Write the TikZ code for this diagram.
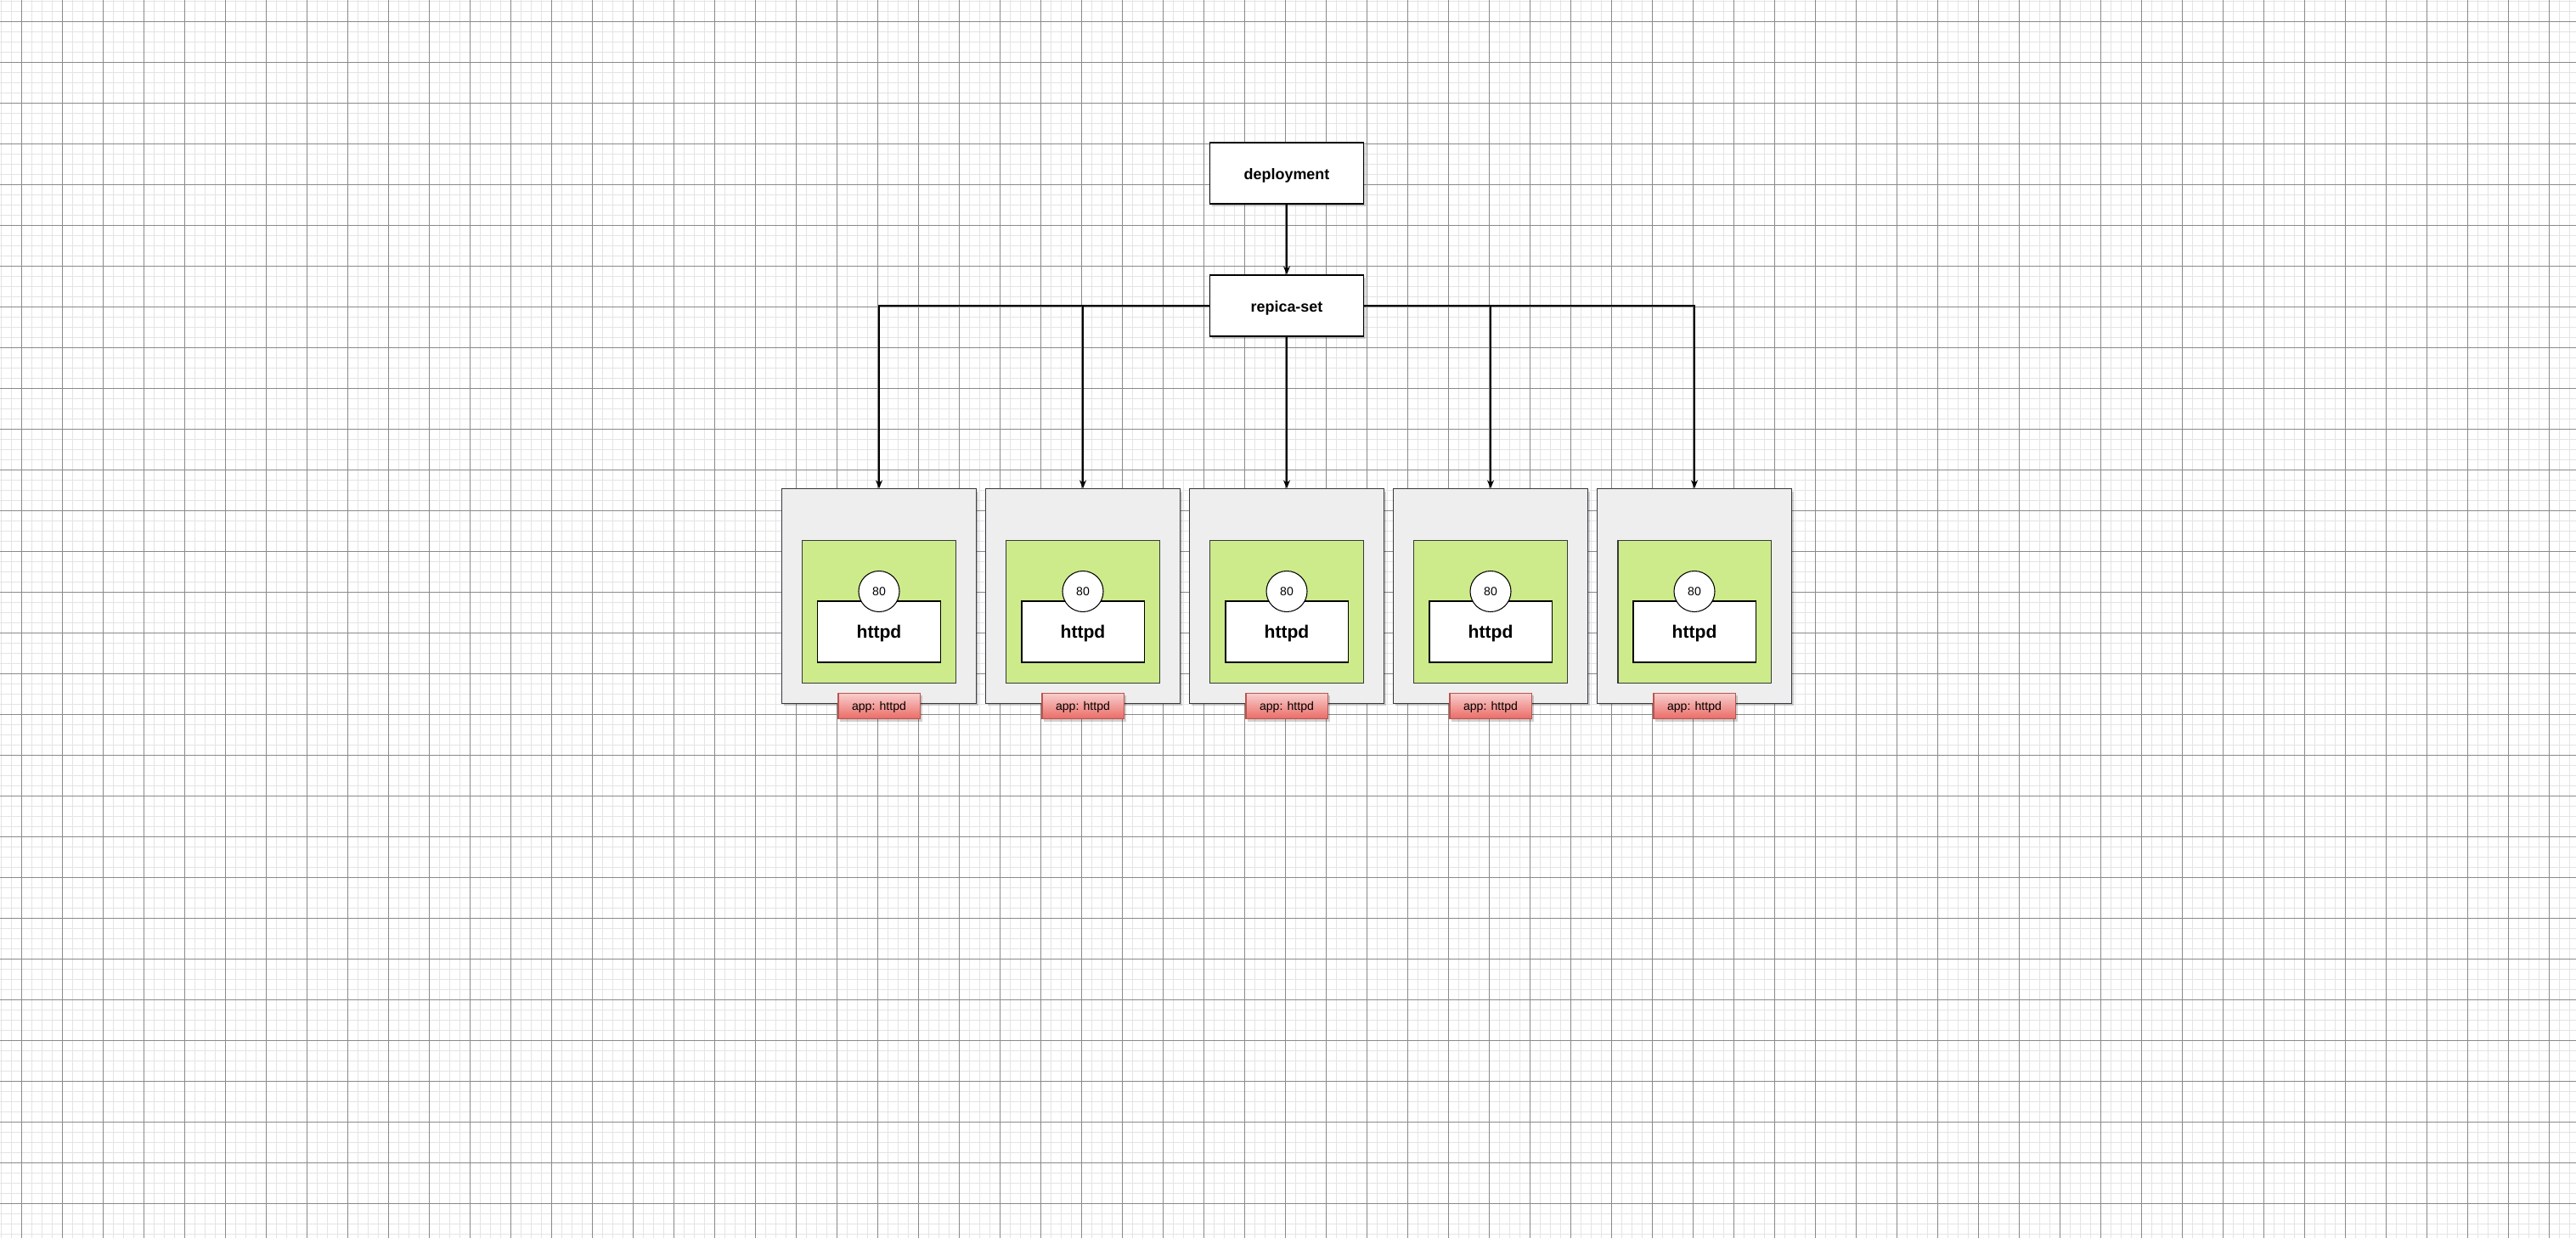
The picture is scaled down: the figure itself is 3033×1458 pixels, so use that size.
\documentclass[tikz,border=0pt]{standalone}
\usepackage{fontspec}
\setmainfont{Liberation Sans}
\usetikzlibrary{arrows.meta, shadows}

\definecolor{podfill}{HTML}{EEEEEE}
\definecolor{podline}{HTML}{36393D}
\definecolor{ctrfill}{HTML}{CDEB8B}
\definecolor{lbltop}{HTML}{F8CECC}
\definecolor{lblbot}{HTML}{EA6B66}
\definecolor{lblline}{HTML}{B85450}
\definecolor{minorgray}{HTML}{E4E4E4}
\definecolor{majorgray}{HTML}{8A8A8A}

\tikzset{
    softshadow/.style={drop shadow={shadow xshift=0.025cm, shadow yshift=-0.03cm, opacity=0.18, fill=black}},
    ctlbox/.style={rectangle, draw=black, fill=white, line width=0.3pt, minimum width=1.8cm, minimum height=0.72cm, text height=4.5pt, text depth=0pt, font=\fontsize{5.1}{6}\selectfont\bfseries, softshadow},
    podbox/.style={rectangle, draw=podline, fill=podfill, line width=0.3pt, minimum width=2.28cm, minimum height=2.52cm, inner sep=0pt, softshadow},
    ctrbox/.style={rectangle, draw=podline, fill=ctrfill, line width=0.3pt, minimum width=1.8cm, minimum height=1.68cm, inner sep=0pt},
    appbox/.style={rectangle, draw=black, fill=white, line width=0.3pt, minimum width=1.44cm, minimum height=0.72cm, text height=4.4pt, text depth=0pt, font=\fontsize{6}{7}\selectfont\bfseries},
    portcirc/.style={circle, draw=black, fill=white, line width=0.3pt, minimum size=0.48cm, inner sep=0pt, font=\fontsize{4}{5}\selectfont},
    podlabel/.style={rectangle, draw=lblline, top color=lbltop, bottom color=lblbot, line width=0.3pt, minimum width=0.96cm, minimum height=0.30cm, inner sep=0pt, text height=3pt, text depth=0pt, font=\fontsize{4}{5}\selectfont, softshadow},
    link/.style={line width=0.32pt, black, -{Stealth[length=0.1cm, width=0.08cm]}}
}

\begin{document}
\begin{tikzpicture}[x=0.01cm, y=-0.01cm]
        \useasboundingbox (0,0) rectangle (3033,1458);
        \fill[white] (0,0) rectangle (3033,1458);

        % background grid
        \foreach \gx in {1.3,13.3,...,3033} \draw[minorgray, line width=0.35pt] (\gx,0) -- (\gx,1458);
        \foreach \gy in {1.3,13.3,...,1458} \draw[minorgray, line width=0.35pt] (0,\gy) -- (3033,\gy);
        \foreach \gx in {25.3,73.3,...,3033} \draw[majorgray, line width=0.25pt] (\gx,0) -- (\gx,1458);
        \foreach \gy in {25.3,73.3,...,1458} \draw[majorgray, line width=0.25pt] (0,\gy) -- (3033,\gy);

        \node[ctlbox] (dep) at (1515,204) {deployment};
        \node[ctlbox] (rs) at (1515,360) {repica-set};

        % pods
        \node[podbox] (pod1) at (1035,702) {};
        \node[podbox] (pod2) at (1275,702) {};
        \node[podbox] (pod3) at (1515,702) {};
        \node[podbox] (pod4) at (1755,702) {};
        \node[podbox] (pod5) at (1995,702) {};

        \node[ctrbox] (ctr1) at (1035,720.5) {};
        \node[ctrbox] (ctr2) at (1275,720.5) {};
        \node[ctrbox] (ctr3) at (1515,720.5) {};
        \node[ctrbox] (ctr4) at (1755,720.5) {};
        \node[ctrbox] (ctr5) at (1995,720.5) {};

        \node[appbox] (app1) at (1035,744) {httpd};
        \node[appbox] (app2) at (1275,744) {httpd};
        \node[appbox] (app3) at (1515,744) {httpd};
        \node[appbox] (app4) at (1755,744) {httpd};
        \node[appbox] (app5) at (1995,744) {httpd};

        \node[portcirc] (port1) at (1035,696.5) {80};
        \node[portcirc] (port2) at (1275,696.5) {80};
        \node[portcirc] (port3) at (1515,696.5) {80};
        \node[portcirc] (port4) at (1755,696.5) {80};
        \node[portcirc] (port5) at (1995,696.5) {80};

        \node[podlabel] (lbl1) at (1035,831.5) {app: httpd};
        \node[podlabel] (lbl2) at (1275,831.5) {app: httpd};
        \node[podlabel] (lbl3) at (1515,831.5) {app: httpd};
        \node[podlabel] (lbl4) at (1755,831.5) {app: httpd};
        \node[podlabel] (lbl5) at (1995,831.5) {app: httpd};

        \draw[link] (dep) -- (rs);
        \draw[link] (rs.west) -| (pod1.north);
        \draw[link] (rs.west) -| (pod2.north);
        \draw[link] (rs) -- (pod3);
        \draw[link] (rs.east) -| (pod4.north);
        \draw[link] (rs.east) -| (pod5.north);
    \end{tikzpicture}
\end{document}
